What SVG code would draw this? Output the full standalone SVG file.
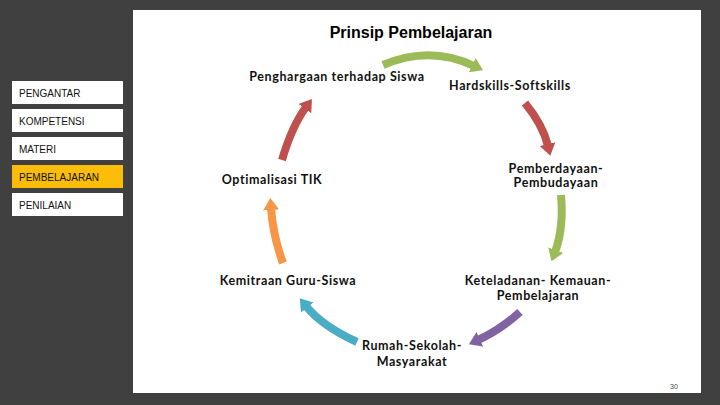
<svg xmlns="http://www.w3.org/2000/svg" width="720" height="405" viewBox="0 0 720 405">
<style>
.m{fill:#fff}.mt{font-family:"Liberation Sans",Arial,sans-serif;font-size:10px;fill:#111}
.l{font-family:Lato,"Open Sans",sans-serif;font-size:12.5px;font-weight:bold;fill:#111;letter-spacing:0.6px;text-anchor:middle}
.a{fill:none;stroke-width:8}
</style>
<defs>
<marker id="mr" markerUnits="userSpaceOnUse" markerWidth="18" markerHeight="18" refX="2" refY="8" orient="auto"><path d="M0,0 L12,8 L0,16 Z" fill="#c0504d"/></marker>
<marker id="mg" markerUnits="userSpaceOnUse" markerWidth="18" markerHeight="18" refX="2" refY="8" orient="auto"><path d="M0,0 L12,8 L0,16 Z" fill="#9bbb59"/></marker>
<marker id="mp" markerUnits="userSpaceOnUse" markerWidth="18" markerHeight="18" refX="2" refY="8" orient="auto"><path d="M0,0 L12,8 L0,16 Z" fill="#8064a2"/></marker>
<marker id="mb" markerUnits="userSpaceOnUse" markerWidth="18" markerHeight="18" refX="2" refY="8" orient="auto"><path d="M0,0 L12,8 L0,16 Z" fill="#4bacc6"/></marker>
<marker id="mo" markerUnits="userSpaceOnUse" markerWidth="18" markerHeight="18" refX="2" refY="8" orient="auto"><path d="M0,0 L12,8 L0,16 Z" fill="#f79646"/></marker>
</defs>
<rect width="720" height="405" fill="#404040"/>
<rect x="133" y="10" width="568" height="383" fill="#fff"/>
<text x="411" y="38" font-family="Liberation Sans,Arial,sans-serif" font-size="16" font-weight="bold" text-anchor="middle" fill="#000">Prinsip Pembelajaran</text>
<g id="menu">
<rect class="m" x="12" y="81" width="111" height="23"/><text class="mt" x="19" y="97">PENGANTAR</text>
<rect class="m" x="12" y="109" width="111" height="23"/><text class="mt" x="19" y="125">KOMPETENSI</text>
<rect class="m" x="12" y="137" width="111" height="23"/><text class="mt" x="19" y="153">MATERI</text>
<rect x="12" y="165" width="111" height="23" fill="#fbbd07"/><text class="mt" x="19" y="181">PEMBELAJARAN</text>
<rect class="m" x="12" y="193" width="111" height="23"/><text class="mt" x="19" y="209">PENILAIAN</text>
</g>
<g id="connectors">
<path class="a" stroke="#9bbb59" d="M383,65 Q430,45 474,66" marker-end="url(#mg)"/>
<path class="a" stroke="#c0504d" d="M525,103 Q543,125 548,146" marker-end="url(#mr)"/>
<path class="a" stroke="#9bbb59" d="M561,195 Q564,228 555,252" marker-end="url(#mg)"/>
<path class="a" stroke="#8064a2" d="M520,312 Q500,330 478,340" marker-end="url(#mp)"/>
<path class="a" stroke="#4bacc6" d="M357,342 Q322,326 306,306" marker-end="url(#mb)"/>
<path class="a" stroke="#f79646" d="M283,263 Q273,236 271,208" marker-end="url(#mo)"/>
<path class="a" stroke="#c0504d" d="M282,160 Q292,126 306,107" marker-end="url(#mr)"/>
</g>
<g id="n1"><text class="l" x="337" y="81">Penghargaan terhadap Siswa</text></g>
<g id="n2"><text class="l" x="510" y="90">Hardskills-Softskills</text></g>
<g id="n3"><text class="l" x="556" y="173">Pemberdayaan-</text><text class="l" x="556" y="187">Pembudayaan</text></g>
<g id="n4"><text class="l" x="538" y="285">Keteladanan- Kemauan-</text><text class="l" x="538" y="300">Pembelajaran</text></g>
<g id="n5"><text class="l" x="412" y="350">Rumah-Sekolah-</text><text class="l" x="412" y="366">Masyarakat</text></g>
<g id="n6"><text class="l" x="288" y="285">Kemitraan Guru-Siswa</text></g>
<g id="n7"><text class="l" x="272" y="184">Optimalisasi TIK</text></g>
<text x="674" y="389" font-family="Liberation Sans,Arial,sans-serif" font-size="7" fill="#444" text-anchor="middle">30</text>
</svg>
